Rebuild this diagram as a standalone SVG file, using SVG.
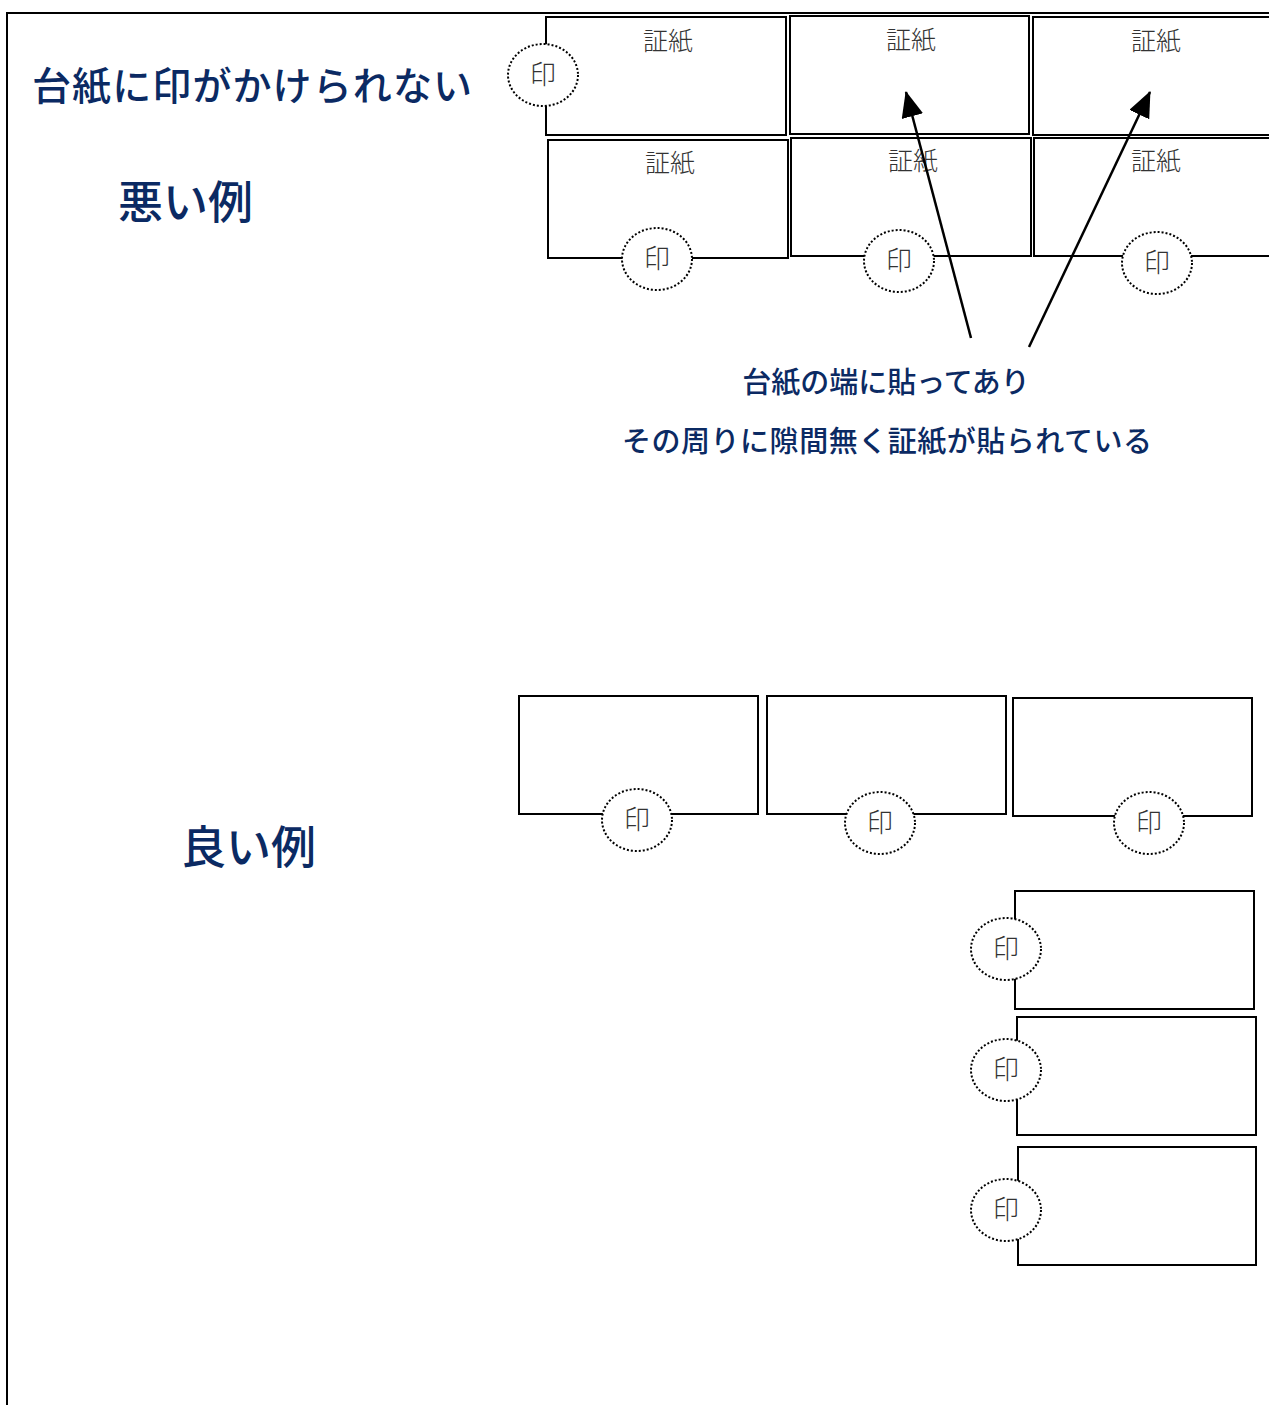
<svg xmlns="http://www.w3.org/2000/svg" width="1269" height="1405" viewBox="0 0 1269 1405">
<defs>
<style>
.frame{fill:none;stroke:#000;stroke-width:2}
.card{fill:#fff;stroke:#000;stroke-width:2}
.seal{fill:#fff;stroke:#000;stroke-width:2;stroke-dasharray:2 2}
.lbl{font-family:"Noto Sans CJK JP",sans-serif;font-size:25px;fill:#333;text-anchor:middle;font-weight:300}
.inn{font-family:"Noto Sans CJK JP",sans-serif;font-size:26px;fill:#333;text-anchor:middle;font-weight:300}
.navy{font-family:"Noto Sans CJK JP",sans-serif;fill:#0b2a63;font-weight:500}
.conn{stroke:#000;stroke-width:2.5;fill:none}
</style>
<marker id="ah" viewBox="0 0 26 22" refX="25" refY="11" markerWidth="26" markerHeight="22" markerUnits="userSpaceOnUse" orient="auto">
<path d="M0,0 L26,11 L0,22 z" fill="#000"/>
</marker>
</defs>
<rect width="1269" height="1405" fill="#fff"/>
<path class="frame" d="M7,1405 V13 H1269"/>

<text class="navy" x="32" y="100" font-size="39" textLength="440">台紙に印がかけられない</text>
<text class="navy" x="118" y="219" font-size="45">悪い例</text>
<text class="navy" x="181" y="864" font-size="45">良い例</text>

<g id="bad1"><rect class="card" x="546" y="17" width="240" height="118"/><text class="lbl" x="668" y="50">証紙</text></g>
<g id="bad2"><rect class="card" x="790" y="16" width="239" height="118"/><text class="lbl" x="911" y="49">証紙</text></g>
<g id="bad3"><rect class="card" x="1033" y="17" width="250" height="118"/><text class="lbl" x="1156" y="50">証紙</text></g>
<g id="bad4"><rect class="card" x="548" y="140" width="240" height="118"/><text class="lbl" x="670" y="172">証紙</text></g>
<g id="bad5"><rect class="card" x="791" y="138" width="240" height="118"/><text class="lbl" x="913" y="170">証紙</text></g>
<g id="bad6"><rect class="card" x="1034" y="138" width="250" height="118"/><text class="lbl" x="1156" y="170">証紙</text></g>

<g id="seal1"><ellipse class="seal" cx="543" cy="75" rx="35" ry="31"/><text class="inn" x="543" y="84">印</text></g>
<g id="seal2"><ellipse class="seal" cx="657" cy="259" rx="35" ry="31"/><text class="inn" x="657" y="268">印</text></g>
<g id="seal3"><ellipse class="seal" cx="899" cy="261" rx="35" ry="31"/><text class="inn" x="899" y="270">印</text></g>
<g id="seal4"><ellipse class="seal" cx="1157" cy="263" rx="35" ry="31"/><text class="inn" x="1157" y="272">印</text></g>

<g id="connectors">
<line class="conn" x1="971" y1="338" x2="906" y2="92" marker-end="url(#ah)"/>
<line class="conn" x1="1029" y1="347" x2="1150" y2="92" marker-end="url(#ah)"/>
</g>

<text class="navy" x="886" y="393" font-size="29" text-anchor="middle">台紙の端に貼ってあり</text>
<text class="navy" x="887" y="452" font-size="29" text-anchor="middle" textLength="530">その周りに隙間無く証紙が貼られている</text>

<g id="good1"><rect class="card" x="519" y="696" width="239" height="118"/><ellipse class="seal" cx="637" cy="820" rx="35" ry="31"/><text class="inn" x="637" y="829">印</text></g>
<g id="good2"><rect class="card" x="767" y="696" width="239" height="118"/><ellipse class="seal" cx="880" cy="823" rx="35" ry="31"/><text class="inn" x="880" y="832">印</text></g>
<g id="good3"><rect class="card" x="1013" y="698" width="239" height="118"/><ellipse class="seal" cx="1149" cy="823" rx="35" ry="31"/><text class="inn" x="1149" y="832">印</text></g>
<g id="good4"><rect class="card" x="1015" y="891" width="239" height="118"/><ellipse class="seal" cx="1006" cy="949" rx="35" ry="31"/><text class="inn" x="1006" y="958">印</text></g>
<g id="good5"><rect class="card" x="1017" y="1017" width="239" height="118"/><ellipse class="seal" cx="1006" cy="1070" rx="35" ry="31"/><text class="inn" x="1006" y="1079">印</text></g>
<g id="good6"><rect class="card" x="1018" y="1147" width="238" height="118"/><ellipse class="seal" cx="1006" cy="1210" rx="35" ry="31"/><text class="inn" x="1006" y="1219">印</text></g>
</svg>
